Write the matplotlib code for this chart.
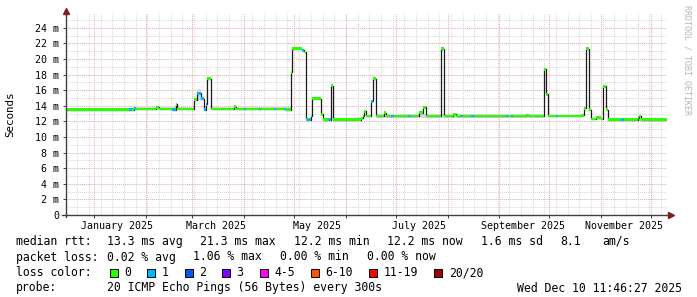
import numpy as np
import matplotlib
matplotlib.use("Agg")
import matplotlib.pyplot as plt
import matplotlib.dates as mdates
from matplotlib.patches import Rectangle

plt.rcParams["font.family"] = "DejaVu Sans Mono"

# median rtt in ms, stepped: each value holds from its date until the next one
change_dates = [
    "2024-12-15", "2025-01-22", "2025-01-24", "2025-01-25", "2025-01-26",
    "2025-02-07", "2025-02-09", "2025-02-17", "2025-02-19", "2025-02-20",
    "2025-03-02", "2025-03-04", "2025-03-06", "2025-03-08", "2025-03-09",
    "2025-03-10", "2025-03-12", "2025-03-26", "2025-03-27", "2025-04-01",
    "2025-04-02", "2025-04-10", "2025-04-11", "2025-04-19", "2025-04-20",
    "2025-04-25", "2025-04-26", "2025-04-29", "2025-04-30", "2025-05-06",
    "2025-05-07", "2025-05-08", "2025-05-09", "2025-05-11", "2025-05-12",
    "2025-05-17", "2025-05-18", "2025-05-21", "2025-05-23", "2025-05-24",
    "2025-06-10", "2025-06-11", "2025-06-12", "2025-06-13", "2025-06-16",
    "2025-06-17", "2025-06-19", "2025-06-24", "2025-06-25", "2025-06-28",
    "2025-06-30", "2025-07-08", "2025-07-10", "2025-07-15", "2025-07-17",
    "2025-07-19", "2025-07-28", "2025-07-30", "2025-08-04", "2025-08-06",
    "2025-08-09", "2025-08-10", "2025-08-15", "2025-08-17", "2025-09-05",
    "2025-09-06", "2025-09-08", "2025-09-09", "2025-09-17", "2025-09-19",
    "2025-09-28", "2025-09-29", "2025-09-30", "2025-10-05", "2025-10-06",
    "2025-10-20", "2025-10-22", "2025-10-23", "2025-10-25", "2025-10-26",
    "2025-10-29", "2025-11-01", "2025-11-02", "2025-11-04", "2025-11-05",
    "2025-11-13", "2025-11-15", "2025-11-23", "2025-11-24", "2025-11-25",
]
median_ms = [
    13.5, 13.5, 13.5, 13.7, 13.6,
    13.8, 13.6, 13.5, 14.2, 13.6,
    14.8, 15.6, 14.9, 13.5, 14.2,
    17.5, 13.6, 13.9, 13.6, 13.6,
    13.6, 13.6, 13.6, 13.6, 13.6,
    13.6, 13.5, 18.3, 21.3, 21.1,
    20.9, 12.2, 12.2, 12.7, 14.9,
    12.9, 12.2, 12.2, 16.6, 12.2,
    12.4, 12.7, 13.3, 12.7, 14.6,
    17.5, 12.7, 13.1, 12.7, 12.7,
    12.7, 12.7, 12.7, 13.1, 13.8,
    12.7, 21.3, 12.7, 12.9, 12.7,
    12.7, 12.7, 12.7, 12.7, 12.7,
    12.7, 12.7, 12.7, 12.8, 12.7,
    18.7, 15.5, 12.7, 12.7, 12.7,
    12.8, 13.7, 21.3, 13.5, 12.3,
    12.5, 12.3, 16.5, 13.5, 12.2,
    12.2, 12.2, 12.5, 12.7, 12.2,
]
# index into loss_colors (0 = no loss, 1 = one lost ping)
lost_pings = [
    0, 1, 0, 1, 0,
    0, 0, 1, 0, 0,
    0, 1, 1, 1, 1,
    0, 0, 0, 0, 1,
    0, 1, 0, 1, 0,
    1, 0, 0, 0, 1,
    0, 0, 1, 0, 0,
    0, 0, 1, 0, 0,
    0, 0, 0, 0, 1,
    0, 0, 0, 0, 1,
    0, 1, 0, 0, 0,
    0, 0, 0, 0, 0,
    1, 0, 1, 0, 1,
    0, 1, 0, 0, 0,
    0, 0, 0, 1, 0,
    0, 0, 0, 0, 0,
    0, 0, 0, 0, 0,
    1, 0, 0, 0, 0,
]

# grey smoke (spread of the pings)
smoke_from = ["2024-12-15", "2025-01-26", "2025-03-04", "2025-03-12", "2025-05-24", "2025-06-19", "2025-11-05"]
smoke_to = ["2025-01-22", "2025-03-02", "2025-03-06", "2025-04-29", "2025-06-10", "2025-09-28", "2025-12-11"]
smoke_low = [13.4, 13.4, 14.6, 13.4, 12.0, 12.5, 12.0]
smoke_high = [13.7, 13.9, 16.1, 13.9, 12.5, 12.9, 12.4]

loss_labels = ["0", "1", "2", "3", "4-5", "6-10", "11-19", "20/20"]
loss_colors = ["#26ff00", "#00b8ff", "#0059ff", "#7e00ff", "#ff00ff", "#ff5500", "#ff0000", "#a10000"]

t_start = np.datetime64("2024-12-15T11:46:27")
t_end = np.datetime64("2025-12-10T11:46:27")

W, H = 697, 297


def fx(px):
    return px / W


def fy(py):
    return 1 - py / H


def num(d):
    return mdates.date2num(np.array(d, dtype="datetime64[s]"))


fig = plt.figure(figsize=(W / 100, H / 100), dpi=100)
fig.patch.set_facecolor("white")
ax = fig.add_axes([fx(66.4), fy(215), 600.6 / W, 202 / H])

# grid
dots = (0, (1, 1))
for v in range(1, 26):
    major = v % 2 == 0
    ax.axhline(v, color="#e6a8a8" if major else "#d6d6d6", lw=0.7, ls=dots, zorder=1)
weeks = np.arange(np.datetime64("2024-12-22"), np.datetime64("2025-12-11"), np.timedelta64(7, "D"))
for d in weeks:
    ax.axvline(num(d), color="#d6d6d6", lw=0.7, ls=dots, zorder=1)
months = np.arange(np.datetime64("2025-01"), np.datetime64("2026-01"), dtype="datetime64[M]")
months = months.astype("datetime64[D]")
for d in months:
    ax.axvline(num(d), color="#e6a8a8", lw=0.7, ls=dots, zorder=1)

# smoke
s0 = num(smoke_from)
s1 = num(smoke_to)
ax.bar(s0, np.array(smoke_high) - np.array(smoke_low), width=s1 - s0, bottom=smoke_low,
       align="edge", color="#d8d8d8", linewidth=0, zorder=2)

# median line + loss coloured band
edges = num(change_dates + [str(t_end)])
med = np.array(median_ms)
ax.step(edges, np.append(med, med[-1]), where="post", color="#1a1a1a", lw=0.9, zorder=3)
ax.bar(edges[:-1], 0.36, width=np.diff(edges), bottom=med - 0.18, align="edge",
       color=[loss_colors[i] for i in lost_pings], linewidth=0, zorder=4)

ax.set_xlim(num(t_start), num(t_end))
ax.set_ylim(0, 25.9)

for s in ax.spines.values():
    s.set_visible(False)
ax.set_facecolor("white")

# axes with arrows
ax.plot([0, 0], [-0.01, 1.0], transform=ax.transAxes, color="#404040", lw=1, clip_on=False, zorder=6)
ax.plot([-0.008, 1.002], [0, 0], transform=ax.transAxes, color="#404040", lw=1, clip_on=False, zorder=6)
ax.plot([0], [1.0 + 2.5 / 202], marker="^", markersize=4, color="#7f1d1d",
        transform=ax.transAxes, clip_on=False, zorder=7)
ax.plot([1.0 + 3.5 / 600], [0], marker=">", markersize=4, color="#7f1d1d",
        transform=ax.transAxes, clip_on=False, zorder=7)

# ticks
yt = list(range(0, 25, 2))
ax.set_yticks(yt)
ax.set_yticklabels(["0"] + [f"{v} m" for v in yt[1:]])
ax.tick_params(axis="y", length=2.5, width=0.7, color="#404040", pad=2.5, labelsize=7.2)

label_months = ["2025-01-15", "2025-03-15", "2025-05-15", "2025-07-15", "2025-09-15", "2025-11-15"]
ax.set_xticks(num(label_months))
ax.set_xticklabels(["January 2025", "March 2025", "May 2025", "July 2025",
                    "September 2025", "November 2025"])
ax.set_xticks(num(months), minor=True)
ax.tick_params(axis="x", which="major", length=0, pad=4, labelsize=7.2)
ax.tick_params(axis="x", which="minor", length=2.5, width=0.7, color="#404040")

fig.text(fx(10), fy(114), "Seconds", rotation=90, ha="center", va="center", fontsize=7.8)
fig.text(fx(687), fy(60), "RRDTOOL / TOBI OETIKER", rotation=270, ha="center", va="center",
         fontsize=6, color="#b4b4b4")

# legend block
fs = 8.3
y1, y2, y3, y4 = 241.5, 257, 272.5, 288
fig.text(fx(16), fy(y1), "median rtt:", fontsize=fs, va="center")
for x, s in zip([107, 200.5, 294, 387.5, 481, 560.5, 602],
                ["13.3 ms avg", "21.3 ms max", "12.2 ms min", "12.2 ms now", "1.6 ms sd", "8.1", "am/s"]):
    fig.text(fx(x), fy(y1), s, fontsize=fs, va="center")

fig.text(fx(16), fy(y2), "packet loss:", fontsize=fs, va="center")
for x, s in zip([107, 193.5, 280, 366.5],
                ["0.02 % avg", "1.06 % max", "0.00 % min", "0.00 % now"]):
    fig.text(fx(x), fy(y2), s, fontsize=fs, va="center")

fig.text(fx(16), fy(y3), "loss color:", fontsize=fs, va="center")
bx = 109.5
for lab, col in zip(loss_labels, loss_colors):
    fig.patches.append(Rectangle((fx(bx), fy(y3 + 4)), 8 / W, 8 / H, transform=fig.transFigure,
                                 facecolor=col, edgecolor="black", lw=0.7))
    fig.text(fx(bx + 14.5), fy(y3), lab, fontsize=fs, va="center")
    bx += 30.6 + 6.92 * len(lab)

fig.text(fx(16), fy(y4), "probe:", fontsize=fs, va="center")
fig.text(fx(107), fy(y4), "20 ICMP Echo Pings (56 Bytes) every 300s", fontsize=fs, va="center")
fig.text(fx(682), fy(y4), "Wed Dec 10 11:46:27 2025", fontsize=fs, va="center", ha="right")

fig.savefig("out.png", dpi=100, facecolor="white")
